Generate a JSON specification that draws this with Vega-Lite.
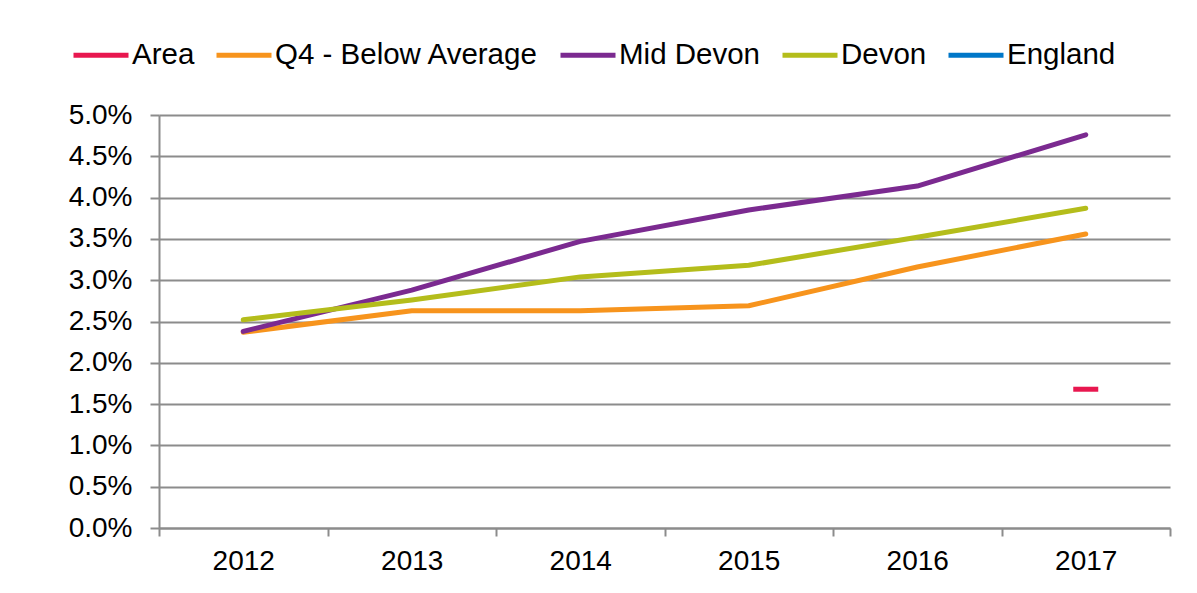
{
  "$schema": "https://vega.github.io/schema/vega-lite/v6.json",
  "autosize": {"type": "none"},
  "width": 1011,
  "height": 413,
  "padding": {"left": 159, "top": 115, "right": 27, "bottom": 65},
  "background": "white",
  "config": {
    "font": "Liberation Sans",
    "view": {"stroke": null},
    "axis": {"labelFont": "Liberation Sans", "labelColor": "#000000", "labelFontSize": 28, "domainColor": "#8c8c8c", "domainWidth": 2, "tickColor": "#8c8c8c", "tickWidth": 2, "gridColor": "#8c8c8c", "gridWidth": 2, "gridOpacity": 1, "tickOpacity": 1, "domainOpacity": 1}
  },
  "data": {"values": [
    {"series": "Area", "year": "2017", "value": 0.0168},
    {"series": "Q4 - Below Average", "year": "2012", "value": 0.0237},
    {"series": "Q4 - Below Average", "year": "2013", "value": 0.0263},
    {"series": "Q4 - Below Average", "year": "2014", "value": 0.0263},
    {"series": "Q4 - Below Average", "year": "2015", "value": 0.0269},
    {"series": "Q4 - Below Average", "year": "2016", "value": 0.0316},
    {"series": "Q4 - Below Average", "year": "2017", "value": 0.0356},
    {"series": "Mid Devon", "year": "2012", "value": 0.0238},
    {"series": "Mid Devon", "year": "2013", "value": 0.0288},
    {"series": "Mid Devon", "year": "2014", "value": 0.0347},
    {"series": "Mid Devon", "year": "2015", "value": 0.0385},
    {"series": "Mid Devon", "year": "2016", "value": 0.0414},
    {"series": "Mid Devon", "year": "2017", "value": 0.0476},
    {"series": "Devon", "year": "2012", "value": 0.0252},
    {"series": "Devon", "year": "2013", "value": 0.0276},
    {"series": "Devon", "year": "2014", "value": 0.0304},
    {"series": "Devon", "year": "2015", "value": 0.0318},
    {"series": "Devon", "year": "2016", "value": 0.0352},
    {"series": "Devon", "year": "2017", "value": 0.0387}
  ]},
  "encoding": {
    "x": {"field": "year", "type": "ordinal", "title": null,
      "scale": {"domain": ["2012", "2013", "2014", "2015", "2016", "2017"], "paddingInner": 0, "paddingOuter": 0},
      "axis": {"labelAngle": 0, "tickBand": "extent", "tickSize": 8, "labelPadding": 11, "grid": false}},
    "y": {"field": "value", "type": "quantitative", "title": null,
      "scale": {"domain": [0, 0.05], "nice": false, "zero": true},
      "axis": {"format": ".1%", "values": [0, 0.005, 0.01, 0.015, 0.02, 0.025, 0.03, 0.035, 0.04, 0.045, 0.05], "tickSize": 9, "labelPadding": 18, "grid": true}},
    "color": {"field": "series", "type": "nominal",
      "scale": {"domain": ["Area", "Q4 - Below Average", "Mid Devon", "Devon", "England"],
                "range": ["#E8174F", "#F7941D", "#7B2A90", "#B4BD1B", "#0077C8"]},
      "legend": {"title": null, "orient": "none", "direction": "horizontal", "columns": 5, "legendX": -88, "legendY": -90,
        "symbolType": "stroke", "symbolSize": 3025, "symbolStrokeWidth": 5, "labelFontSize": 29.5, "labelFont": "Liberation Sans", "labelColor": "#000000",
        "labelOffset": 1, "columnPadding": 11, "padding": 0, "symbolOpacity": 1, "labelLimit": 0}}
  },
  "layer": [
    {"transform": [{"filter": "datum.series !== 'Area'"}],
     "mark": {"type": "line", "strokeWidth": 5, "strokeCap": "round", "strokeJoin": "round"}},
    {"transform": [{"filter": "datum.series === 'Area'"}],
     "mark": {"type": "tick", "size": 25, "thickness": 5, "opacity": 1}}
  ]
}
